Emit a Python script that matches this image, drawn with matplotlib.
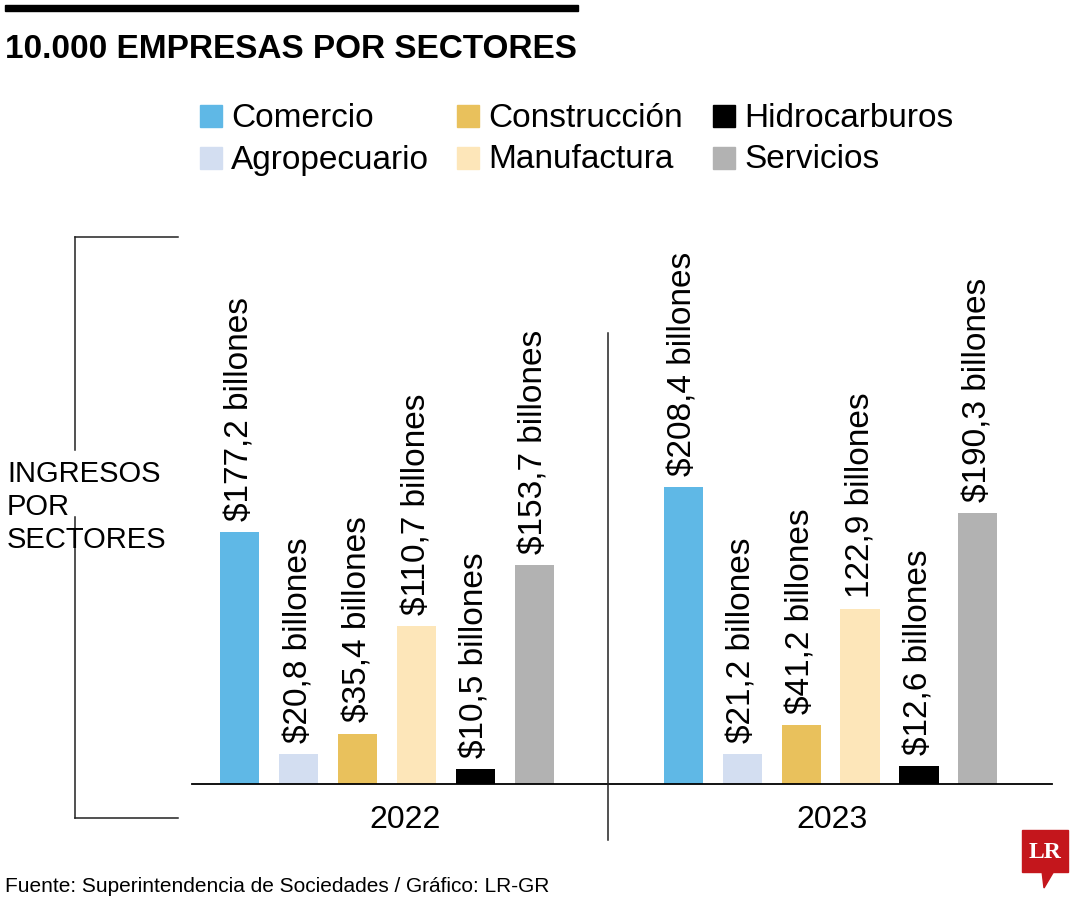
import matplotlib
matplotlib.use('Agg')
import matplotlib.pyplot as plt
from matplotlib.lines import Line2D
from matplotlib.patches import Rectangle, Polygon
import numpy as np

plt.rcParams['font.family'] = ['Liberation Sans', 'DejaVu Sans']

# data (billones de pesos)
years = ['2022', '2023']
sectors = ['Comercio', 'Agropecuario', 'Construcción', 'Manufactura', 'Hidrocarburos', 'Servicios']
colors = ['#5fb8e6', '#d3def1', '#e9c15c', '#fde6b9', '#000000', '#b2b2b2']
values_2022 = [177.2, 20.8, 35.4, 110.7, 10.5, 153.7]
values_2023 = [208.4, 21.2, 41.2, 122.9, 12.6, 190.3]
labels_2022 = ['$177,2 billones', '$20,8 billones', '$35,4 billones',
               '$110,7 billones', '$10,5 billones', '$153,7 billones']
labels_2023 = ['$208,4 billones', '$21,2 billones', '$41,2 billones',
               '122,9 billones', '$12,6 billones', '$190,3 billones']

W, H = 1080, 900
fig = plt.figure(figsize=(W / 100, H / 100), dpi=100)

def fx(px): return px / W
def fy(py): return 1 - py / H

# axes: baseline at y=784 px, x from 192 to 1052 px
ax = fig.add_axes([fx(192), fy(784), fx(1052 - 192), (784 - 240) / H])
ax.set_xlim(-0.4397, 1.4994)
ax.set_ylim(0, 544 / 1.424)
for s in ['top', 'right', 'left']:
    ax.spines[s].set_visible(False)
ax.spines['bottom'].set_linewidth(1.3)
ax.set_xticks([]); ax.set_yticks([])

step, width = 0.133, 0.088
offsets = (np.arange(len(sectors)) - 2.5) * step
for g, (vals, labs) in enumerate([(values_2022, labels_2022), (values_2023, labels_2023)]):
    xs = g + offsets
    ax.bar(xs, vals, width=width, color=colors)
    for x, v, lab in zip(xs, vals, labs):
        ax.annotate(lab, xy=(x, v), xytext=(0, 8), textcoords='offset points',
                    rotation=90, ha='center', va='bottom', fontsize=24,
                    annotation_clip=False)

# legend: 3 columns x 2 rows, filled column by column
col_x = [200, 457, 713]
row_y = [116, 158]
for i, (name, c) in enumerate(zip(sectors, colors)):
    px, py = col_x[i // 2], row_y[i % 2]
    fig.add_artist(Rectangle((fx(px), fy(py + 11)), fx(22), 22 / H, color=c))
    fig.text(fx(px + 31), fy(py + 2), name, ha='left', va='center', fontsize=24)

# year labels and divider
fig.text(fx(405), fy(820), years[0], ha='center', va='center', fontsize=23)
fig.text(fx(832), fy(820), years[1], ha='center', va='center', fontsize=23)
fig.add_artist(Line2D([fx(608), fx(608)], [fy(333), fy(840)], color='#222222', lw=1.1))

# bracket with side label
bk = dict(color='#222222', lw=1.1)
fig.add_artist(Line2D([fx(75), fx(75)], [fy(237), fy(450)], **bk))
fig.add_artist(Line2D([fx(75), fx(75)], [fy(517), fy(818)], **bk))
fig.add_artist(Line2D([fx(75), fx(178)], [fy(237), fy(237)], **bk))
fig.add_artist(Line2D([fx(75), fx(178)], [fy(818), fy(818)], **bk))
fig.text(fx(7), fy(507), 'INGRESOS\nPOR\nSECTORES', ha='left', va='center',
         fontsize=21, linespacing=1.25)

# header
fig.add_artist(Rectangle((fx(5), fy(11)), fx(573), 6 / H, color='black'))
fig.text(fx(5), fy(49), '10.000 EMPRESAS POR SECTORES', ha='left', va='center',
         fontsize=24, fontweight='bold')

# footer
fig.text(fx(5), fy(886), 'Fuente: Superintendencia de Sociedades / Gráfico: LR-GR',
         ha='left', va='center', fontsize=15)

# LR logo
red = '#c4161c'
fig.add_artist(Rectangle((fx(1022), fy(872)), fx(46), 42 / H, color=red))
fig.add_artist(Polygon([[fx(1042), fy(871)], [fx(1054), fy(871)], [fx(1044), fy(888)]],
                       closed=True, color=red))
fig.text(fx(1045), fy(852), 'LR', ha='center', va='center', fontsize=17,
         fontweight='bold', color='white', family=['Liberation Serif', 'DejaVu Serif'])

fig.savefig('out.png', dpi=100)
